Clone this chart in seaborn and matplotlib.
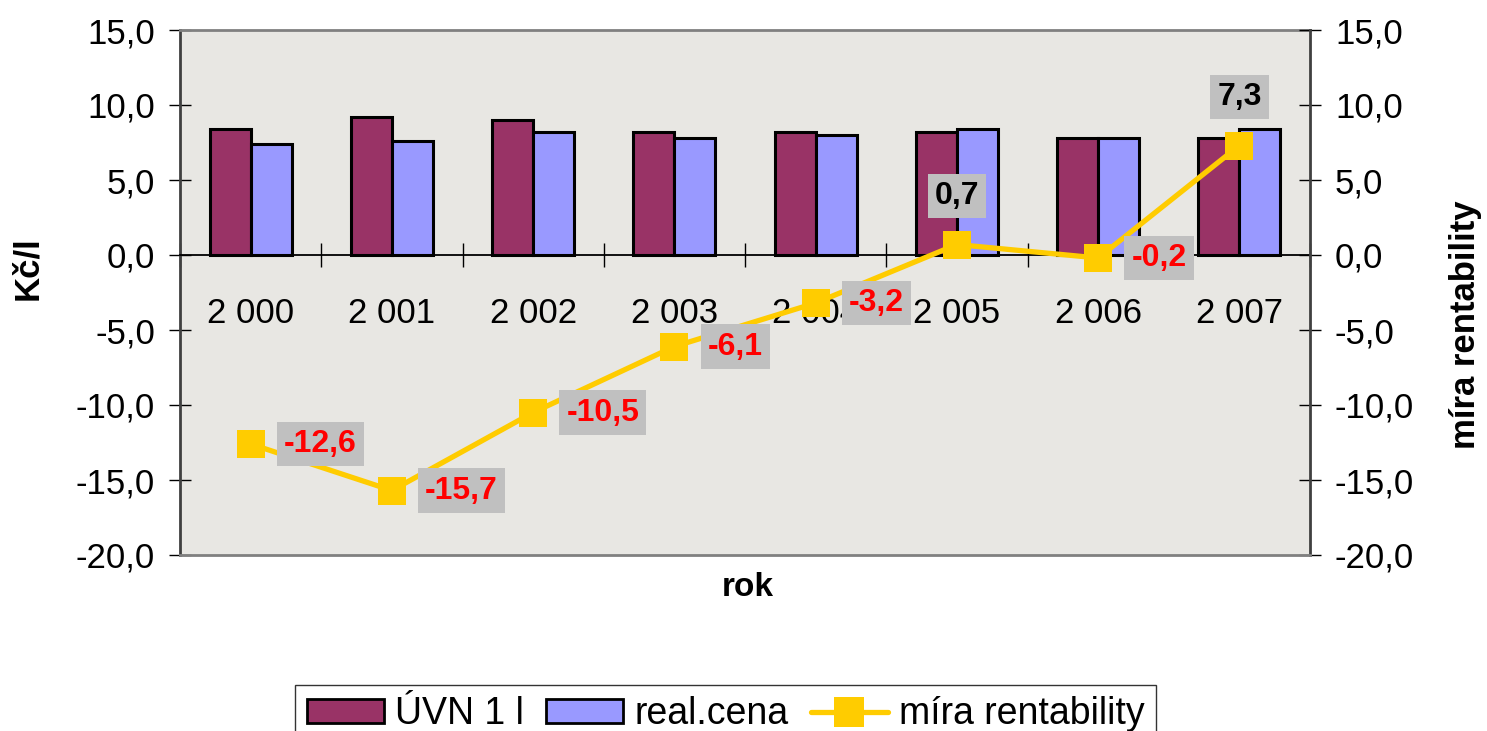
import numpy as np
import pandas as pd
import matplotlib
matplotlib.use("Agg")
import matplotlib.pyplot as plt
import seaborn as sns
from matplotlib.patches import Patch
from matplotlib.lines import Line2D
from matplotlib.ticker import FixedLocator, FuncFormatter

# ---- data ----
years = ["2 000", "2 001", "2 002", "2 003", "2 004", "2 005", "2 006", "2 007"]
uvn = [8.4, 9.2, 9.0, 8.2, 8.2, 8.2, 7.8, 7.8]
real_cena = [7.4, 7.6, 8.2, 7.8, 8.0, 8.4, 7.8, 8.4]
rentabilita = [-12.6, -15.7, -10.5, -6.1, -3.2, 0.7, -0.2, 7.3]
series_names = ["ÚVN 1 l", "real.cena", "míra rentability"]
y_ticks = [-20, -15, -10, -5, 0, 5, 10, 15]

C_UVN = "#993366"
C_REAL = "#9999FF"
C_LINE = "#FFCC00"

sns.set_style("white")
plt.rcParams["font.family"] = ["Liberation Sans", "DejaVu Sans"]
plt.rcParams["text.color"] = "black"
plt.rcParams["xtick.color"] = "black"
plt.rcParams["ytick.color"] = "black"
plt.rcParams["axes.labelcolor"] = "black"

df = pd.DataFrame({
    "rok": years * 2,
    "value": uvn + real_cena,
    "series": [series_names[0]] * len(years) + [series_names[1]] * len(years),
})

fig = plt.figure(figsize=(14.87, 7.31), dpi=100)
ax = fig.add_axes([180 / 1487, 1 - 555 / 731, (1310 - 180) / 1487, (555 - 30) / 731])
ax.set_facecolor("#E8E7E3")

sns.barplot(data=df, x="rok", y="value", hue="series", order=years,
            hue_order=series_names[:2], palette=[C_UVN, C_REAL],
            width=0.58, edgecolor="black", linewidth=2.2, saturation=1,
            legend=False, ax=ax, zorder=3)

ax2 = ax.twinx()
pos = np.arange(len(years))
sns.lineplot(x=pos, y=rentabilita, ax=ax2, color=C_LINE, lw=3.8,
             marker="s", markersize=19.5, markeredgewidth=0, zorder=4)

fmt = FuncFormatter(lambda v, p: f"{v:.1f}".replace(".", ","))
for a in (ax, ax2):
    a.set_ylim(-20, 15)
    a.yaxis.set_major_locator(FixedLocator(y_ticks))
    a.yaxis.set_major_formatter(fmt)
    a.set_xlim(-0.5, len(years) - 0.5)

# x axis at zero with cross ticks at boundaries, labels centered
ax.spines["bottom"].set_position(("data", 0))
ax.spines["bottom"].set_color("black")
ax.spines["bottom"].set_linewidth(1.3)
ax.xaxis.set_major_locator(FixedLocator(np.arange(-0.5, len(years), 1.0)))
ax.xaxis.set_major_formatter(FuncFormatter(lambda v, p: ""))
ax.set_xticks(pos, minor=True)
ax.set_xticklabels(years, minor=True)
ax.tick_params(axis="x", which="major", direction="inout", length=17, width=1, color="black", bottom=True)
ax.tick_params(axis="x", which="minor", length=0, pad=30, labelsize=25, labelcolor="black", bottom=True)

ax.tick_params(axis="y", direction="inout", length=16, width=1, color="black", left=True, pad=10,
               labelsize=25, labelcolor="black")
ax2.tick_params(axis="y", direction="inout", length=16, width=1, color="black", right=True, pad=10,
                labelsize=25, labelcolor="black")
ax2.tick_params(axis="x", bottom=False, labelbottom=False)

ax.spines["left"].set_color("#404040")
ax.spines["left"].set_linewidth(2)
ax.spines["top"].set_color("#808080")
ax.spines["top"].set_linewidth(2)
ax.spines["right"].set_visible(False)
ax2.spines["right"].set_color("#404040")
ax2.spines["right"].set_linewidth(2)
ax2.spines["bottom"].set_color("#808080")
ax2.spines["bottom"].set_linewidth(2)
ax2.spines["top"].set_visible(False)
ax2.spines["left"].set_visible(False)

ax.set_xlabel("")
ax.set_ylabel("")
ax2.set_xlabel("")
ax2.set_ylabel("")

# data labels
for x, v in zip(pos, rentabilita):
    txt = f"{v:.1f}".replace(".", ",")
    col = "#FF0000" if v < 0 else "black"
    if v > 0:
        off, ha, va = (0, 24), "center", "bottom"
    else:
        off, ha, va = (24, 0), "left", "center"
    ax2.annotate(txt, (x, v), xytext=off, textcoords="offset points",
                 ha=ha, va=va, fontsize=23, fontweight="bold", color=col,
                 bbox=dict(boxstyle="square,pad=0.22", fc="#C0C0C0", ec="none"),
                 zorder=6)

fig.text(28 / 1487, 1 - 268 / 731, "Kč/l", rotation=90, ha="center", va="center",
         fontsize=25, fontweight="bold")
fig.text(1465 / 1487, 1 - 325 / 731, series_names[2], rotation=90, ha="center", va="center",
         fontsize=25, fontweight="bold")
fig.text(748 / 1487, 1 - 588 / 731, "rok", ha="center", va="center",
         fontsize=24, fontweight="bold")

handles = [
    Patch(facecolor=C_UVN, edgecolor="black", linewidth=2),
    Patch(facecolor=C_REAL, edgecolor="black", linewidth=2),
    Line2D([0], [0], color=C_LINE, lw=3.8, marker="s", markersize=21, markeredgewidth=0),
]
leg = fig.legend(handles, series_names, loc="upper center", bbox_to_anchor=(0.488, 1 - 685 / 731),
                 ncol=3, fontsize=27, frameon=True, fancybox=False, edgecolor="black",
                 handlelength=2.05, handleheight=0.62, handletextpad=0.3, columnspacing=0.6,
                 borderpad=0.3, borderaxespad=0)
leg.get_frame().set_linewidth(1)

fig.savefig("out.png", dpi=100)
